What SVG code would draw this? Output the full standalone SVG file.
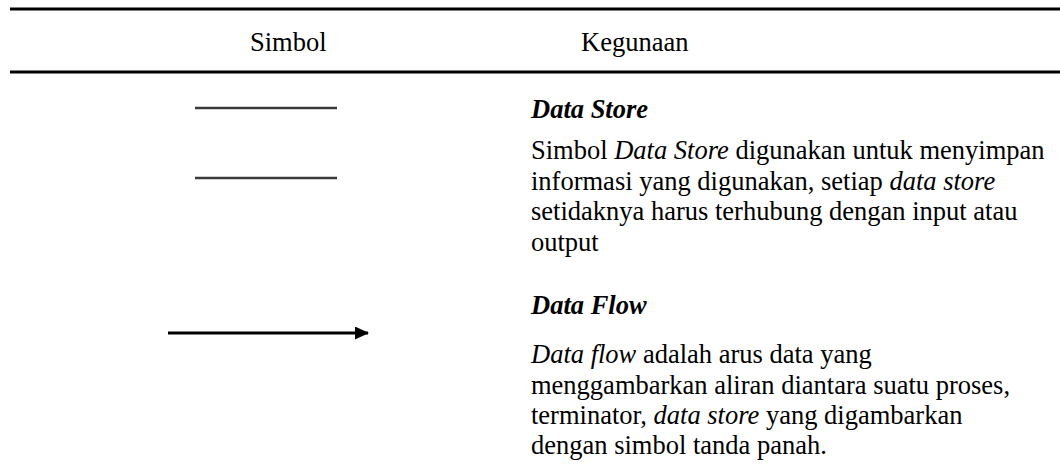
<svg xmlns="http://www.w3.org/2000/svg" width="1060" height="471" viewBox="0 0 1060 471">
<style>
text{font-family:"Liberation Serif","Times New Roman",serif;font-size:26.5px;fill:#000}
.b{font-weight:bold;font-style:italic}
.i{font-style:italic}
.rule{stroke:#000;stroke-width:2.8}
.ds{stroke:#3a3a3a;stroke-width:2.4}
</style>
<defs>
<marker id="ah" markerWidth="14" markerHeight="13" refX="13" refY="6.5" orient="auto" markerUnits="userSpaceOnUse" viewBox="0 0 14 13">
<path d="M0,0 L14,6.5 L0,13 Z" fill="#000"/>
</marker>
</defs>
<g id="table-rules">
<line class="rule" x1="10" y1="9" x2="1060" y2="9"/>
<line class="rule" x1="10" y1="72" x2="1060" y2="72"/>
</g>
<g id="header">
<text x="250" y="51">Simbol</text>
<text x="581" y="51">Kegunaan</text>
</g>
<g id="data-store-symbol">
<line class="ds" x1="195" y1="108" x2="337" y2="108"/>
<line class="ds" x1="195" y1="178" x2="337" y2="178"/>
</g>
<g id="data-store-text">
<text class="b" x="531" y="118">Data Store</text>
<text x="531" y="159">Simbol <tspan class="i">Data Store</tspan> digunakan untuk menyimpan</text>
<text x="531" y="190">informasi yang digunakan, setiap <tspan class="i">data store</tspan></text>
<text x="531" y="220">setidaknya harus terhubung dengan input atau</text>
<text x="531" y="251">output</text>
</g>
<g id="connectors">
<line x1="168" y1="333" x2="368" y2="333" stroke="#000" stroke-width="3" marker-end="url(#ah)"/>
</g>
<g id="data-flow-text">
<text class="b" x="531" y="314">Data Flow</text>
<text x="531" y="363"><tspan class="i">Data flow</tspan> adalah arus data yang</text>
<text x="531" y="394">menggambarkan aliran diantara suatu proses,</text>
<text x="531" y="424">terminator, <tspan class="i">data store</tspan> yang digambarkan</text>
<text x="531" y="454">dengan simbol tanda panah.</text>
</g>
</svg>
